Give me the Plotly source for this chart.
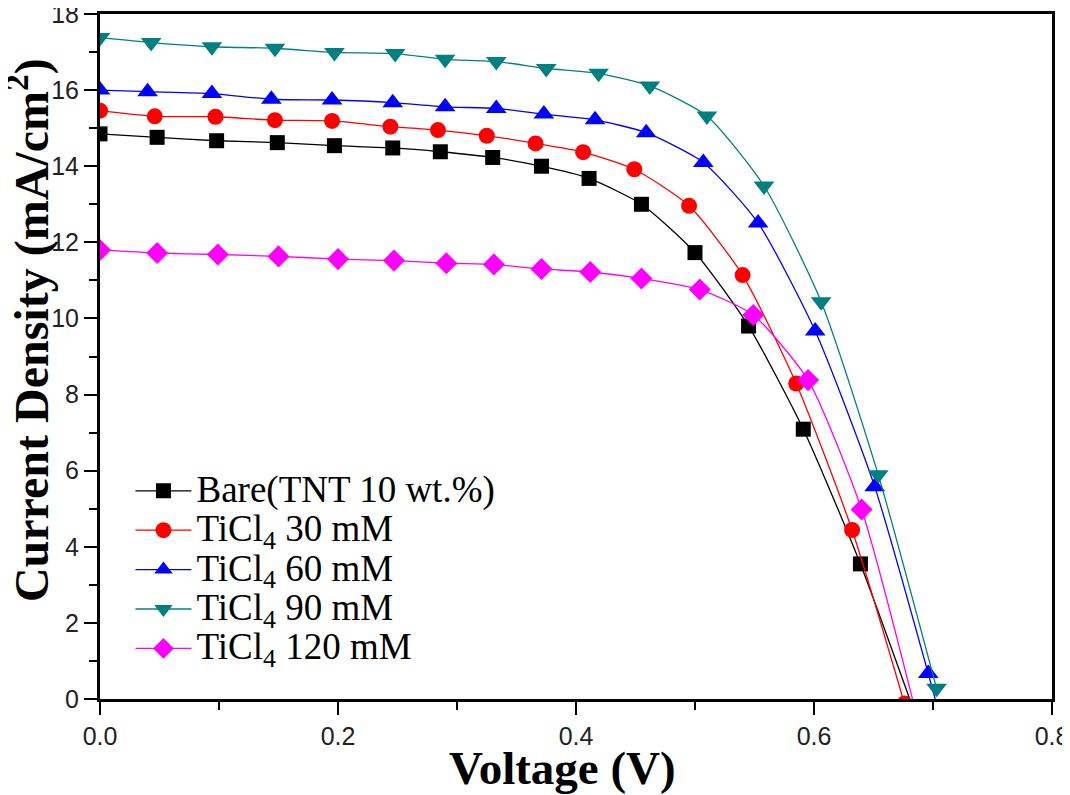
import plotly.graph_objects as go

# J-V data (voltage in V, current density in mA/cm2)
v_bare = [0, 0.048, 0.098, 0.149, 0.197, 0.246, 0.286, 0.330, 0.371, 0.411, 0.455, 0.500, 0.545, 0.591, 0.639, 0.685]
j_bare = [14.85, 14.76, 14.67, 14.62, 14.54, 14.48, 14.38, 14.23, 14.00, 13.68, 13.00, 11.73, 9.80, 7.09, 3.55, -0.4]

v_30 = [0, 0.046, 0.097, 0.147, 0.195, 0.244, 0.284, 0.325, 0.366, 0.406, 0.449, 0.495, 0.540, 0.585, 0.632, 0.676]
j_30 = [15.46, 15.31, 15.30, 15.21, 15.19, 15.04, 14.95, 14.80, 14.60, 14.37, 13.92, 12.96, 11.14, 8.29, 4.44, -0.12]

v_60 = [0, 0.040, 0.094, 0.144, 0.195, 0.246, 0.290, 0.333, 0.373, 0.416, 0.459, 0.507, 0.553, 0.601, 0.651, 0.696, 0.704]
j_60 = [16.00, 15.96, 15.91, 15.76, 15.74, 15.67, 15.56, 15.52, 15.37, 15.22, 14.88, 14.10, 12.51, 9.67, 5.58, 0.67, -0.25]

v_90 = [0, 0.043, 0.094, 0.147, 0.197, 0.248, 0.290, 0.333, 0.375, 0.419, 0.462, 0.510, 0.558, 0.606, 0.654, 0.703]
j_90 = [17.38, 17.25, 17.14, 17.10, 16.99, 16.96, 16.81, 16.75, 16.57, 16.44, 16.11, 15.32, 13.48, 10.44, 5.89, 0.28]

v_120 = [0, 0.048, 0.099, 0.150, 0.200, 0.247, 0.291, 0.331, 0.371, 0.412, 0.455, 0.504, 0.549, 0.595, 0.640, 0.686]
j_120 = [11.80, 11.72, 11.68, 11.63, 11.56, 11.52, 11.45, 11.42, 11.30, 11.22, 11.05, 10.76, 10.09, 8.38, 4.98, -0.4]

names = ["Bare(TNT 10 wt.%)", "TiCl<sub>4</sub> 30 mM", "TiCl<sub>4</sub> 60 mM",
         "TiCl<sub>4</sub> 90 mM", "TiCl<sub>4</sub> 120 mM"]

series = [
    (names[0], v_bare, j_bare, "#000000", "square", 15),
    (names[1], v_30, j_30, "#FF0000", "circle", 16),
    (names[2], v_60, j_60, "#0000FF", "triangle-up", 18),
    (names[3], v_90, j_90, "#008080", "triangle-down", 18),
    (names[4], v_120, j_120, "#FF00FF", "diamond", 17),
]

fig = go.Figure()
for name, v, j, color, symbol, size in series:
    fig.add_trace(go.Scatter(
        x=v, y=j, mode="lines+markers",
        # legend text drawn a bit larger than the row height font (tight Origin-style rows)
        name='<span style="font-size:37px">' + name + "</span>",
        line=dict(color=color, width=1.3, shape="spline", smoothing=0.6),
        marker=dict(color=color, symbol=symbol, size=size, line=dict(width=0)),
        cliponaxis=True,
    ))

axis_common = dict(
    showline=True, linecolor="black", linewidth=3, mirror=True,
    ticks="outside", tickcolor="black", tickwidth=2, ticklen=13,
    showgrid=False, zeroline=False, automargin=False, ticklabeloverflow="allow",
    tickfont=dict(family="Liberation Sans, Arial", size=25, color="#222"),
)

fig.update_xaxes(
    range=[0, 0.8], tickvals=[0, 0.2, 0.4, 0.6, 0.8], ticktext=["0.0", "0.2", "0.4", "0.6", "0.8"],
    minor=dict(dtick=0.1, ticks="outside", ticklen=8, tickwidth=2, tickcolor="black"),
    **axis_common,
)
fig.update_yaxes(
    range=[0, 18], dtick=2,
    minor=dict(dtick=1, ticks="outside", ticklen=8, tickwidth=2, tickcolor="black"),
    **axis_common,
)

fig.add_annotation(
    text="<b>Voltage (V)</b>", xref="paper", yref="paper", x=0.486, y=-0.1,
    showarrow=False, xanchor="center", yanchor="middle",
    font=dict(family="Liberation Serif, Times New Roman", size=47, color="black"),
)
fig.add_annotation(
    text="<b>Current Density (mA/cm<sup>2</sup>)</b>", xref="paper", yref="paper",
    x=-0.075, y=0.538, textangle=-90, showarrow=False,
    xanchor="center", yanchor="middle",
    font=dict(family="Liberation Serif, Times New Roman", size=48, color="black"),
)

# page body adds an 8 px offset, so the figure is 8 px smaller and shifted margins
fig.update_layout(
    width=1062, height=787,
    margin=dict(l=92, r=18, t=6, b=96),
    plot_bgcolor="white", paper_bgcolor="white",
    legend=dict(
        x=0.032, y=0.34, xanchor="left", yanchor="top",
        bgcolor="rgba(0,0,0,0)", itemwidth=56,
        font=dict(family="Liberation Serif, Times New Roman", size=28, color="black"),
        tracegroupgap=0,
    ),
)

fig.write_html("out.html")
